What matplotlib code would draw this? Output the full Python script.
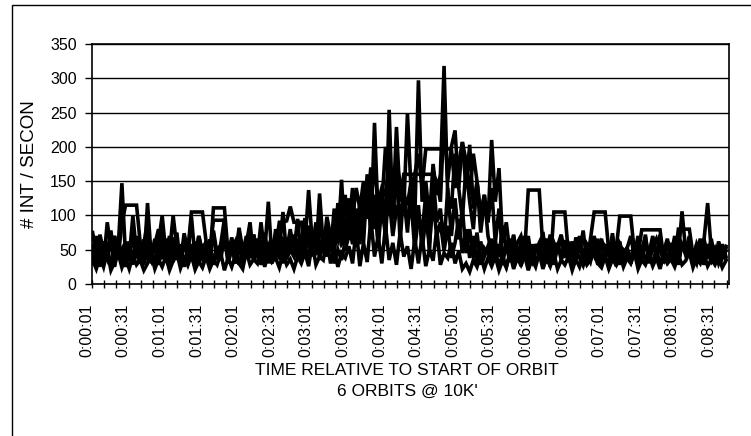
import numpy as np
import matplotlib
matplotlib.use("Agg")
import matplotlib.pyplot as plt
from matplotlib import font_manager
from matplotlib.patches import Rectangle
import matplotlib.transforms as mtransforms

# ---------------- data ----------------
n_categories = 522          # one category per second, 0:00:01 ... 0:08:42
sample_step = 3             # values read every 3 s
seconds = np.arange(1, 522, sample_step)

orbit_1 = [38, 70, 30, 62, 45, 78, 28, 55, 147, 40,
           62, 28, 70, 35, 58, 92, 30, 66, 42, 85,
           33, 60, 48, 75, 28, 64, 40, 98, 36, 70,
           45, 62, 30, 78, 44, 58, 95, 35, 68, 40,
           82, 50, 64, 38, 72, 46, 60, 30, 56, 42,
           70, 36, 62, 48, 80, 40, 66, 34, 58, 137,
           60, 42, 132, 55, 80, 48, 70, 62, 152, 58,
           90, 58, 110, 68, 95, 150, 75, 235, 95, 140,
           70, 254, 100, 160, 85, 130, 115, 150, 95, 297,
           120, 150, 95, 175, 130, 160, 318, 130, 110, 190,
           140, 95, 170, 120, 80, 150, 100, 130, 90, 210,
           120, 169, 60, 90, 45, 72, 35, 62, 48, 70,
           30, 58, 42, 76, 34, 64, 28, 55, 72, 40,
           60, 30, 68, 45, 78, 32, 56, 42, 66, 28,
           58, 40, 74, 35, 62, 30, 52, 70, 38, 60,
           44, 72, 30, 55, 66, 48, 36, 62, 42, 70,
           34, 58, 45, 68, 30, 52, 40, 64, 118, 48,
           36, 62, 42, 55]
orbit_2 = [75, 45, 62, 30, 90, 52, 70, 40, 88, 115,
           115, 115, 115, 60, 40, 70, 33, 58, 80, 36,
           66, 45, 100, 52, 30, 74, 48, 105, 105, 105,
           105, 62, 40, 74, 35, 56, 80, 42, 64, 30,
           72, 48, 58, 90, 36, 66, 44, 75, 30, 60,
           52, 90, 90, 92, 113, 90, 90, 90, 55, 75,
           40, 88, 60, 45, 98, 70, 50, 118, 85, 130,
           65, 95, 140, 110, 150, 95, 125, 170, 115, 140,
           130, 170, 100, 229, 120, 160, 160, 160, 160, 160,
           160, 160, 160, 160, 150, 120, 243, 150, 200, 224,
           140, 207, 180, 130, 190, 150, 100, 130, 70, 48,
           62, 40, 85, 52, 66, 38, 60, 70, 45, 137,
           137, 137, 137, 52, 66, 38, 60, 45, 70, 38,
           60, 52, 43, 68, 35, 58, 48, 70, 40, 62,
           55, 42, 64, 50, 99, 99, 99, 99, 45, 70,
           36, 59, 45, 70, 40, 62, 48, 66, 38, 55,
           42, 106, 48, 62, 35, 58, 44, 66, 40, 60,
           48, 55, 38, 52]
orbit_3 = [55, 30, 72, 48, 36, 66, 25, 54, 42, 62,
           33, 75, 46, 58, 28, 118, 40, 56, 35, 62,
           44, 70, 38, 60, 30, 66, 42, 58, 36, 70,
           48, 62, 34, 111, 111, 111, 111, 44, 64, 38,
           56, 30, 66, 45, 72, 38, 60, 50, 34, 62,
           40, 57, 30, 67, 45, 72, 38, 60, 96, 55,
           42, 78, 50, 62, 40, 70, 48, 85, 58, 66,
           125, 70, 95, 58, 140, 110, 170, 80, 130, 115,
           200, 145, 120, 175, 150, 110, 249, 135, 160, 190,
           140, 197, 197, 197, 197, 197, 197, 197, 197, 140,
           175, 207, 140, 203, 110, 150, 75, 120, 90, 140,
           60, 110, 42, 55, 32, 63, 48, 38, 70, 45,
           33, 58, 40, 66, 30, 55, 42, 60, 35, 52,
           44, 62, 36, 58, 48, 30, 66, 105, 105, 105,
           105, 48, 62, 36, 58, 45, 53, 30, 60, 42,
           79, 79, 79, 79, 79, 79, 36, 62, 45, 53,
           30, 60, 42, 56, 35, 48, 66, 40, 58, 36,
           50, 34, 58, 40]
orbit_4 = [30, 50, 35, 62, 44, 28, 70, 36, 50, 25,
           45, 68, 38, 52, 30, 48, 35, 65, 28, 52,
           40, 58, 32, 55, 46, 62, 34, 50, 28, 60,
           38, 52, 44, 93, 93, 93, 93, 40, 55, 30,
           62, 36, 48, 70, 35, 52, 28, 46, 60, 30,
           55, 42, 68, 36, 50, 40, 62, 45, 58, 34,
           66, 48, 90, 55, 70, 48, 110, 62, 85, 50,
           70, 130, 65, 95, 60, 150, 80, 120, 60, 140,
           90, 125, 70, 110, 100, 130, 75, 150, 65, 115,
           50, 95, 60, 120, 70, 90, 48, 85, 38, 60,
           95, 45, 80, 38, 70, 30, 62, 40, 55, 35,
           48, 28, 40, 25, 45, 30, 52, 26, 44, 35,
           58, 28, 47, 32, 55, 25, 105, 105, 105, 105,
           42, 30, 50, 38, 27, 46, 33, 56, 28, 62,
           40, 30, 50, 26, 45, 34, 52, 30, 48, 28,
           56, 35, 44, 30, 52, 28, 46, 34, 60, 32,
           80, 80, 80, 80, 42, 30, 55, 28, 46, 34,
           50, 30, 44, 36]
orbit_5 = [45, 68, 25, 58, 40, 75, 34, 62, 28, 55,
           38, 100, 44, 30, 65, 40, 52, 28, 60, 100,
           45, 30, 68, 35, 58, 25, 50, 40, 62, 28,
           58, 42, 65, 28, 55, 35, 70, 30, 50, 62,
           28, 45, 70, 38, 60, 40, 90, 45, 120, 35,
           80, 50, 105, 40, 75, 48, 95, 38, 65, 85,
           45, 90, 35, 70, 42, 60, 30, 50, 35, 62,
           85, 140, 60, 120, 75, 160, 90, 130, 55, 115,
           70, 150, 95, 180, 60, 140, 85, 120, 50, 100,
           75, 130, 45, 160, 90, 110, 55, 140, 70, 125,
           65, 110, 45, 80, 38, 75, 28, 52, 44, 66,
           35, 58, 28, 62, 40, 70, 32, 55, 38, 66,
           28, 48, 60, 35, 45, 72, 30, 58, 40, 64,
           32, 56, 38, 70, 28, 60, 44, 52, 30, 66,
           40, 58, 35, 62, 28, 50, 45, 38, 60, 32,
           50, 68, 34, 56, 42, 72, 30, 62, 40, 54,
           28, 60, 44, 70, 36, 58, 30, 52, 42, 66,
           34, 56, 40, 48]
orbit_6 = [35, 22, 40, 25, 48, 20, 32, 45, 24, 38,
           22, 42, 28, 35, 20, 30, 44, 22, 36, 25,
           40, 20, 34, 46, 23, 38, 27, 42, 21, 33,
           24, 40, 22, 35, 28, 45, 20, 38, 25, 42,
           30, 22, 48, 28, 36, 30, 55, 25, 45, 32,
           38, 24, 44, 28, 36, 22, 40, 30, 46, 26,
           60, 28, 40, 35, 65, 30, 50, 25, 45, 38,
           55, 30, 80, 26, 60, 32, 95, 40, 70, 30,
           85, 35, 60, 28, 75, 40, 55, 22, 65, 30,
           70, 26, 50, 34, 80, 28, 45, 38, 60, 30,
           48, 22, 30, 18, 35, 25, 42, 22, 38, 26,
           40, 20, 35, 24, 45, 22, 38, 28, 42, 20,
           36, 25, 45, 22, 38, 26, 44, 22, 35, 28,
           40, 20, 36, 25, 42, 28, 35, 48, 30, 24,
           40, 22, 36, 28, 44, 25, 38, 30, 46, 22,
           35, 28, 42, 26, 38, 22, 44, 30, 36, 25,
           42, 28, 34, 46, 24, 38, 30, 44, 26, 36,
           28, 40, 24, 34]

tick_labels = ["0:00:01", "0:00:31", "0:01:01", "0:01:31", "0:02:01", "0:02:31",
               "0:03:01", "0:03:31", "0:04:01", "0:04:31", "0:05:01", "0:05:31",
               "0:06:01", "0:06:31", "0:07:01", "0:07:31", "0:08:01", "0:08:31"]
y_ticks = [0, 50, 100, 150, 200, 250, 300, 350]

# ---------------- fonts ----------------
names = {f.name for f in font_manager.fontManager.ttflist}
base_font = "Liberation Sans" if "Liberation Sans" in names else "DejaVu Sans"
narrow_font = "Liberation Sans Narrow" if "Liberation Sans Narrow" in names else base_font
plt.rcParams["font.family"] = [base_font, "DejaVu Sans"]

W, H = 751, 436
fig = plt.figure(figsize=(W / 100, H / 100), dpi=100)
fig.patch.set_facecolor("white")

# outer chart frame (cut off on the right and bottom like the scan)
fig.patches.append(Rectangle((12 / W, -0.05), 1.2, 1 - 5 / H + 0.05,
                             transform=fig.transFigure, fill=False,
                             edgecolor="black", linewidth=1.0))

L, R, T, B = 92, 729, 44, 284
ax = fig.add_axes([L / W, 1 - B / H, (R - L) / W, (B - T) / H])

for s in [orbit_1, orbit_2, orbit_3, orbit_4, orbit_5, orbit_6]:
    ax.plot(seconds, s, color="black", linewidth=2.6, solid_joinstyle="miter")

ax.set_xlim(0.5, n_categories + 0.5)
ax.set_ylim(0, 350)
ax.set_yticks(y_ticks)
ax.set_yticklabels([str(v) for v in y_ticks], fontsize=11.5)
ax.yaxis.grid(True, color="black", linewidth=1.0)
ax.set_axisbelow(True)
ax.tick_params(axis="y", direction="out", length=5, width=1, pad=6)

# minor ticks every 10 categories, labels every 30
ax.set_xticks(np.arange(0.5, n_categories + 1, 10), minor=True)
label_pos = np.arange(1, n_categories, 30)
ax.set_xticks(label_pos)
ax.set_xticklabels(tick_labels, rotation=90, fontsize=11.5)
ax.tick_params(axis="x", which="major", length=0, pad=14)
ax.tick_params(axis="x", which="minor", direction="inout", length=6, width=1)
offset = mtransforms.ScaledTranslation(-6 / 100, 0, fig.dpi_scale_trans)
for lbl in ax.get_xticklabels():
    lbl.set_transform(lbl.get_transform() + offset)

for sp in ax.spines.values():
    sp.set_color("black")
    sp.set_linewidth(1.2)

fig.text(30 / W, 1 - 164 / H, "# INT / SECON", rotation=90, ha="center",
         va="center", fontsize=13.5)
fig.text(407 / W, 1 - 370 / H, "TIME RELATIVE TO START OF ORBIT", ha="center",
         va="center", fontsize=12.5, family=[narrow_font, "DejaVu Sans"])
fig.text(407 / W, 1 - 391 / H, "6 ORBITS @ 10K'", ha="center",
         va="center", fontsize=12.5, family=[narrow_font, "DejaVu Sans"])

fig.savefig("out.png", dpi=100)
